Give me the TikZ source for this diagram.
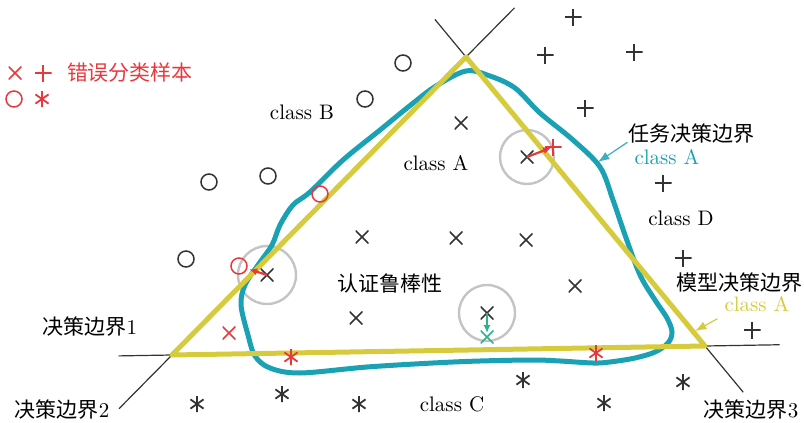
\documentclass[tikz,border=0pt]{standalone}
\usepackage{fontspec}
\newfontfamily\cjk{Noto Sans CJK SC}
\usetikzlibrary{arrows.meta,calc}
\definecolor{taskteal}{HTML}{1AA2B4}
\definecolor{modelyellow}{HTML}{D6CB3C}
\definecolor{errred}{HTML}{E8383D}
\definecolor{advgreen}{HTML}{2DB38A}
\definecolor{ringgray}{HTML}{C4C4C4}

\begin{document}
\begin{tikzpicture}[x=0.5pt,y=-0.5pt,>=Latex,font=\fontsize{10.5}{12}\selectfont,
    mk/.style={inner sep=0pt,minimum size=#1},
    xmk/.style={mk=6.5pt,path picture={\draw[#1,line width=0.8pt]
      (path picture bounding box.south west) -- (path picture bounding box.north east)
      (path picture bounding box.north west) -- (path picture bounding box.south east);}},
    xmk/.default=black!80,
    pmk/.style={mk=8.5pt,path picture={\draw[#1,line width=0.8pt]
      (path picture bounding box.north) -- (path picture bounding box.south)
      (path picture bounding box.west) -- (path picture bounding box.east);}},
    pmk/.default=black!80,
    smk/.style={mk=8pt,path picture={\draw[#1,line width=0.9pt]
      (path picture bounding box.center) +(90:4pt) -- +(270:4pt)
      (path picture bounding box.center) +(35:4pt) -- +(215:4pt)
      (path picture bounding box.center) +(145:4pt) -- +(325:4pt);
      \fill[#1] (path picture bounding box.center) circle (1pt);}},
    smk/.default=black!80,
    omk/.style={circle,draw=#1,line width=0.75pt,inner sep=0pt,minimum size=8pt},
    omk/.default=black!80,
    cjk/.style={font=\fontsize{10.5}{12}\selectfont\cjk},
    bline/.style={black!80,line width=0.6pt},
    ring/.style={ringgray,line width=1.2pt},
    errarrow/.style={-{Latex[length=4pt,width=3.6pt]},errred,line width=1.1pt,shorten >=1pt}]
  \useasboundingbox (0,0) rectangle (804,423);

  % legend
  \node[xmk=errred] (legx) at (15,73) {};
  \node[pmk=errred] (legp) at (43,73) {};
  \node[omk=errred] (lego) at (14,99) {};
  \node[smk=errred] (legs) at (42,99) {};
  \node[cjk,errred] (legtxt) at (130,73) {错误分类样本};

  % decision boundaries
  \coordinate (vt) at (466,57);
  \coordinate (vl) at (172,355);
  \coordinate (vr) at (705,346);
  \draw[bline] ($(vl)!-0.1!(vr)$) -- ($(vr)!-0.14!(vl)$);
  \draw[bline] ($(vl)!-0.18!(vt)$) -- ($(vt)!-0.165!(vl)$);
  \draw[bline] ($(vt)!-0.13!(vr)$) -- ($(vr)!-0.16!(vt)$);

  % robustness rings
  \draw[ring] (527,157) circle (13.5pt);
  \draw[ring] (267,275) circle (14.5pt);
  \draw[ring] (487,313) circle (14pt);

  % task boundary
  \draw[taskteal,line width=2.5pt] plot[smooth cycle,tension=0.55] coordinates {
    (466,71) (490,76) (515,88) (540,113) (573,140) (600,167) (613,200)
    (625,235) (640,275) (655,300) (667,318) (672,332) (668,343) (655,352)
    (635,358) (610,362) (593,363) (560,361) (533,360) (480,361) (433,363)
    (367,367) (300,373) (270,368) (255,356) (248,335) (241,305) (245,285)
    (258,265) (272,245) (280,225) (293,205) (310,192) (343,160) (380,130)
    (412,104) (436,86)};

  % model boundary
  \draw[modelyellow,line width=2.5pt,line join=round] (vt) -- (vl) -- (vr) -- cycle;

  % class A
  \node[xmk] (a1) at (461,123) {};
  \node[xmk] (a2) at (527,157) {};
  \node[xmk] (a3) at (362,237) {};
  \node[xmk] (a4) at (456,238) {};
  \node[xmk] (a5) at (526,240) {};
  \node[xmk] (a6) at (575,286) {};
  \node[xmk] (a7) at (356,318) {};
  \node[xmk] (a8) at (487,313) {};
  \node[xmk] (a9) at (267,275) {};
  \node[xmk=errred] (ea1) at (229,333) {};
  \node[xmk=advgreen] (adv) at (487,337) {};

  % class B
  \node[omk] (b1) at (403,63) {};
  \node[omk] (b2) at (365,99) {};
  \node[omk] (b3) at (209,182) {};
  \node[omk] (b4) at (268,176) {};
  \node[omk] (b5) at (186,259) {};
  \node[omk=errred] (eb1) at (320,194) {};
  \node[omk=errred] (eb2) at (239,266) {};

  % class C
  \node[smk] (c1) at (197,404) {};
  \node[smk] (c2) at (282,394) {};
  \node[smk] (c3) at (359,404) {};
  \node[smk] (c4) at (523,380) {};
  \node[smk] (c5) at (604,403) {};
  \node[smk] (c6) at (683,382) {};
  \node[smk=errred] (ec1) at (291,357) {};
  \node[smk=errred] (ec2) at (596,353) {};

  % class D
  \node[pmk] (d1) at (573,17) {};
  \node[pmk] (d2) at (545,55) {};
  \node[pmk] (d3) at (634,52) {};
  \node[pmk] (d4) at (585,108) {};
  \node[pmk] (d5) at (663,183) {};
  \node[pmk] (d6) at (683,258) {};
  \node[pmk] (d7) at (752,330) {};
  \node[pmk=errred] (ed1) at (553,147) {};

  % perturbations
  \draw[errarrow] (a9.center) -- (eb2);
  \draw[errarrow] (a2.center) -- (ed1.center);
  \draw[-{Latex[length=4pt,width=3.6pt]},advgreen,line width=1.1pt,shorten >=2pt] (a8.center) -- (adv.center);

  % labels
  \node (lb) at (302,112) {class B};
  \node (la) at (436,163) {class A};
  \node (ld) at (681,218) {class D};
  \node (lc) at (452,404) {class C};
  \node[cjk] (rob) at (390,284) {认证鲁棒性};
  \node[cjk] (tname) at (691,134) {任务决策边界};
  \node[taskteal] (tcls) at (667,157) {class A};
  \node[cjk] (mname) at (739,283) {模型决策边界};
  \node[modelyellow] (mcls) at (757,304) {class A};
  \node (bd1) at (90,327) {{\cjk 决策边界}1};
  \node (bd2) at (62,410) {{\cjk 决策边界}2};
  \node (bd3) at (751,410) {{\cjk 决策边界}3};

  \coordinate (tpt) at (598,162);
  \coordinate (mpt) at (695,331);
  \draw[->,taskteal!85,line width=0.6pt] (tcls.north west) -- (tpt);
  \draw[->,modelyellow,line width=0.6pt] (mcls.south west) -- (mpt);
\end{tikzpicture}
\end{document}
